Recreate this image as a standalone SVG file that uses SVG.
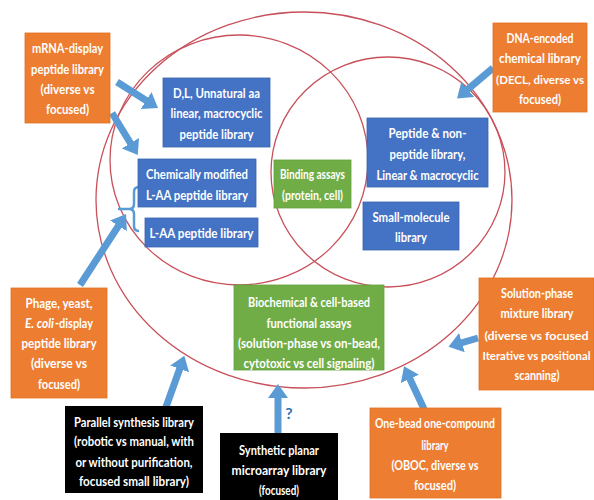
<svg xmlns="http://www.w3.org/2000/svg" width="594" height="500" viewBox="0 0 594 500">
<defs>
<style>
.ring{fill:none;stroke:#C8505A;stroke-width:1.3}
.or{fill:#ED7D31;stroke:#E07020;stroke-width:0.8}
.bl{fill:#4472C4;stroke:#3A64B0;stroke-width:0.8}
.gr{fill:#70AD47;stroke:#62A03C;stroke-width:0.8}
.bk{fill:#000}
text{font-family:Lato,"Open Sans","Liberation Sans",sans-serif;font-weight:700;font-size:13.5px;fill:#fff;text-anchor:middle}
.st{text-anchor:start}
.sm{font-size:12px}
.xs{font-size:11px}
.arr{stroke:#5B9BD5;stroke-width:7;fill:none;marker-end:url(#ah)}
.q{fill:#2E75B6;font-size:16px}
</style>
<marker id="ah" markerUnits="userSpaceOnUse" markerWidth="14" markerHeight="20" viewBox="0 0 14 20" refX="1" refY="10" orient="auto">
<path d="M0,0 L14,10 L0,20 z" fill="#5B9BD5"/>
</marker>
</defs>
<rect width="594" height="500" fill="#fff"/>
<g id="rings">
<ellipse class="ring" cx="304" cy="200" rx="208" ry="188"/>
<ellipse class="ring" cx="239" cy="160" rx="129" ry="125"/>
<ellipse class="ring" cx="388" cy="172" rx="117" ry="115"/>
</g>
<g id="connectors">
<line class="arr" x1="117" y1="82" x2="147" y2="101"/>
<line class="arr" x1="112" y1="113" x2="131" y2="144"/>
<line class="arr" x1="493" y1="68" x2="467" y2="90"/>
<line class="arr" x1="80" y1="285" x2="119" y2="225"/>
<line class="arr" x1="166" y1="407" x2="180" y2="368"/>
<line class="arr" x1="278" y1="434" x2="278" y2="397"/>
<line class="arr" x1="424" y1="409" x2="409.5" y2="378"/>
<line class="arr" x1="478" y1="338" x2="461" y2="343"/>
<path d="M139,187 Q134,187 134,192 L134,204 Q134,209 129,209 Q134,209 134,214 L134,226 Q134,231 139,231 M118,209 L129,209" fill="none" stroke="#5B9BD5" stroke-width="2.5"/>
<text class="q" x="289" y="419">?</text>
</g>
<g id="mrna">
<rect class="or" x="25" y="33" width="85" height="90"/>
<text x="67.5" y="53" textLength="71" lengthAdjust="spacingAndGlyphs">mRNA-display</text>
<text x="67.5" y="74" textLength="73" lengthAdjust="spacingAndGlyphs">peptide library</text>
<text x="67.5" y="94" textLength="54" lengthAdjust="spacingAndGlyphs">(diverse vs</text>
<text x="67.5" y="114" textLength="43" lengthAdjust="spacingAndGlyphs">focused)</text>
</g>
<g id="dl">
<rect class="bl" x="163" y="78" width="107" height="69"/>
<text x="216.5" y="98" textLength="87" lengthAdjust="spacingAndGlyphs">D,L, Unnatural aa</text>
<text x="216.5" y="118" textLength="92" lengthAdjust="spacingAndGlyphs">linear, macrocyclic</text>
<text x="216.5" y="139" textLength="74" lengthAdjust="spacingAndGlyphs">peptide library</text>
</g>
<g id="chem">
<rect class="bl" x="138" y="159" width="118" height="48"/>
<text x="197" y="179" textLength="102" lengthAdjust="spacingAndGlyphs">Chemically modified</text>
<text x="197" y="200" textLength="102" lengthAdjust="spacingAndGlyphs">L-AA peptide library</text>
</g>
<g id="laa">
<rect class="bl" x="145" y="218" width="113" height="29"/>
<text x="201.5" y="238" textLength="104" lengthAdjust="spacingAndGlyphs">L-AA peptide library</text>
</g>
<g id="binding">
<rect class="gr" x="274" y="160" width="77" height="48"/>
<text x="312.5" y="179" textLength="65" lengthAdjust="spacingAndGlyphs">Binding assays</text>
<text x="312.5" y="200" textLength="61" lengthAdjust="spacingAndGlyphs">(protein, cell)</text>
</g>
<g id="peptide">
<rect class="bl" x="367" y="118" width="121" height="69"/>
<text x="427.5" y="138" textLength="78" lengthAdjust="spacingAndGlyphs">Peptide &amp; non-</text>
<text x="427.5" y="159" textLength="76" lengthAdjust="spacingAndGlyphs">peptide library,</text>
<text x="427.5" y="180" textLength="102" lengthAdjust="spacingAndGlyphs">Linear &amp; macrocyclic</text>
</g>
<g id="small">
<rect class="bl" x="363" y="202" width="96" height="48"/>
<text x="411" y="222" textLength="77" lengthAdjust="spacingAndGlyphs">Small-molecule</text>
<text x="411" y="242" textLength="32" lengthAdjust="spacingAndGlyphs">library</text>
</g>
<g id="decl">
<rect class="or" x="493" y="23" width="94" height="89"/>
<text x="540" y="43" textLength="67" lengthAdjust="spacingAndGlyphs">DNA-encoded</text>
<text x="540" y="63" textLength="82" lengthAdjust="spacingAndGlyphs">chemical library</text>
<text class="sm" x="540" y="84" textLength="88" lengthAdjust="spacingAndGlyphs">(DECL, diverse vs</text>
<text x="540" y="104" textLength="42" lengthAdjust="spacingAndGlyphs">focused)</text>
</g>
<g id="phage">
<rect class="or" x="11" y="288" width="96" height="110"/>
<text x="59" y="308" textLength="67" lengthAdjust="spacingAndGlyphs">Phage, yeast,</text>
<text class="st" x="25" y="328" font-style="italic" textLength="29" lengthAdjust="spacingAndGlyphs">E. coli</text>
<text class="st" x="55" y="328" textLength="38" lengthAdjust="spacingAndGlyphs">-display</text>
<text x="59" y="348" textLength="75" lengthAdjust="spacingAndGlyphs">peptide library</text>
<text x="59" y="368" textLength="56" lengthAdjust="spacingAndGlyphs">(diverse vs</text>
<text x="59" y="389" textLength="42" lengthAdjust="spacingAndGlyphs">focused)</text>
</g>
<g id="biochem">
<rect class="gr" x="234" y="285" width="150" height="85"/>
<text x="309" y="307" textLength="122" lengthAdjust="spacingAndGlyphs">Biochemical &amp; cell-based</text>
<text x="309" y="328" textLength="85" lengthAdjust="spacingAndGlyphs">functional assays</text>
<text x="309" y="348" textLength="142" lengthAdjust="spacingAndGlyphs">(solution-phase vs on-bead,</text>
<text x="309" y="368" textLength="131" lengthAdjust="spacingAndGlyphs">cytotoxic vs cell signaling)</text>
</g>
<g id="solution">
<rect class="or" x="479" y="278" width="115" height="112"/>
<text x="537" y="298" textLength="72" lengthAdjust="spacingAndGlyphs">Solution-phase</text>
<text x="537" y="318" textLength="73" lengthAdjust="spacingAndGlyphs">mixture library</text>
<text class="sm" x="536.5" y="340" textLength="104" lengthAdjust="spacingAndGlyphs">(diverse vs focused</text>
<text class="xs" x="536.5" y="360" textLength="108" lengthAdjust="spacingAndGlyphs">Iterative vs positional</text>
<text x="537" y="380" textLength="45" lengthAdjust="spacingAndGlyphs">scanning)</text>
</g>
<g id="parallel">
<rect class="bk" x="65" y="406" width="138" height="87"/>
<text x="134" y="427" textLength="120" lengthAdjust="spacingAndGlyphs">Parallel synthesis library</text>
<text x="134" y="446" textLength="120" lengthAdjust="spacingAndGlyphs">(robotic vs manual, with</text>
<text x="134" y="467" textLength="117" lengthAdjust="spacingAndGlyphs">or without purification,</text>
<text x="134" y="486" textLength="110" lengthAdjust="spacingAndGlyphs">focused small library)</text>
</g>
<g id="planar">
<rect class="bk" x="220" y="433" width="118" height="67"/>
<text x="279" y="455" textLength="80" lengthAdjust="spacingAndGlyphs">Synthetic planar</text>
<text x="279" y="475" textLength="95" lengthAdjust="spacingAndGlyphs">microarray library</text>
<text x="279" y="495" textLength="40" lengthAdjust="spacingAndGlyphs">(focused)</text>
</g>
<g id="oboc">
<rect class="or" x="370" y="408" width="131" height="90"/>
<text x="435" y="428" textLength="120" lengthAdjust="spacingAndGlyphs">One-bead one-compound</text>
<text x="435" y="450" textLength="27" lengthAdjust="spacingAndGlyphs">library</text>
<text x="435" y="470" textLength="87" lengthAdjust="spacingAndGlyphs">(OBOC, diverse vs</text>
<text x="435" y="490" textLength="42" lengthAdjust="spacingAndGlyphs">focused)</text>
</g>
</svg>
